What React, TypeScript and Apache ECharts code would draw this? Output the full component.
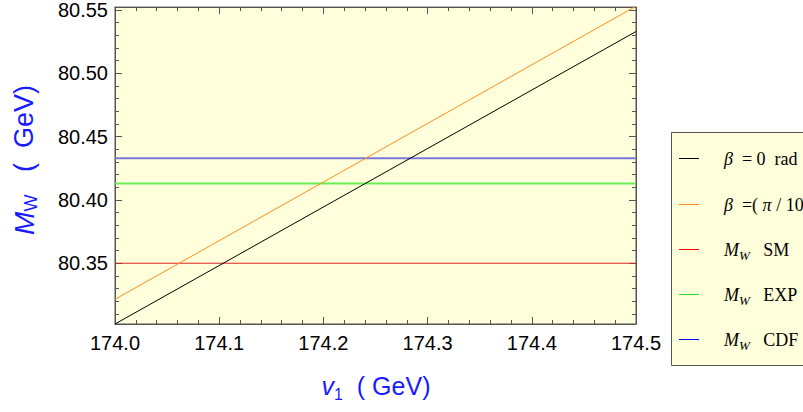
import React, { useEffect, useRef } from 'react';
import * as echarts from 'echarts';

// ---- data ----
const xRange = [174.0, 174.5];
const yRange = [80.302, 80.5523];
const yMajorStep = 0.05;

const v1Values = [174.0, 174.5];
const mwBeta0 = [80.302, 80.533];
const mwBetaPi10 = [80.3215, 80.553];
const mwSM = [80.35, 80.35];
const mwEXP = [80.413, 80.413];
const mwCDF = [80.433, 80.433];

const S = '\u00a0';
const legendLabels = [
  `{i|β}${S}${S}=${S}0${S}${S}rad`,
  `{i|β}${S}${S}=(${S}{i|π}${S}/${S}10`,
  `{i|M}{sub|W}${S}${S}${S}SM`,
  `{i|M}{sub|W}${S}${S}${S}EXP`,
  `{i|M}{sub|W}${S}${S}${S}CDF`,
];
const legendColors = ['#000000', '#ff8c1a', '#ff0000', '#22dd22', '#0000ff'];

const xTitle = `{i|v}{sub|1}${S}${S}(${S}GeV)`;
const yTitle = `{i|M}{sub|W}${S}${S}${S}(${S}${S}GeV)`;

const axisColor = '#555555';

function pairs(xs: number[], ys: number[]) {
  return xs.map((x, i) => [x, ys[i]]);
}

export default function App() {
  const ref = useRef<HTMLDivElement>(null);
  useEffect(() => {
    if (!ref.current) return;
    const chart = echarts.init(ref.current, undefined, { renderer: 'svg' });

    const tickCommon = {
      axisLine: { show: true, onZero: false, lineStyle: { color: axisColor, width: 1 } },
      axisTick: { show: true, inside: true, length: 7, lineStyle: { color: axisColor, width: 1 } },
      minorTick: { show: true, splitNumber: 5, length: 4, lineStyle: { color: axisColor, width: 1 } },
      splitLine: { show: false },
      minorSplitLine: { show: false },
    };

    const labelFont = {
      fontFamily: 'Liberation Sans, Arial, sans-serif',
      fontSize: 20,
      color: '#000',
    };

    const yFormatter = (v: number) => {
      const k = v / yMajorStep;
      return Math.abs(k - Math.round(k)) < 1e-6 ? v.toFixed(2) : '';
    };

    const serif = 'Liberation Serif, Times New Roman, serif';
    const legendGraphics: any[] = [];
    legendGraphics.push({
      type: 'rect',
      shape: { x: 671.5, y: 132.5, width: 160, height: 233 },
      style: { fill: '#ffffdc', stroke: '#555', lineWidth: 1 },
      z: 10,
    });
    const rowY = [159, 205, 250, 295, 340];
    legendLabels.forEach((lab, i) => {
      legendGraphics.push({
        type: 'line',
        shape: { x1: 679, y1: rowY[i] - 0.5, x2: 699, y2: rowY[i] - 0.5 },
        style: { stroke: legendColors[i], lineWidth: 1 },
        z: 11,
      });
      legendGraphics.push({
        type: 'text',
        x: 724,
        y: rowY[i],
        style: {
          text: lab,
          fill: '#000',
          fontFamily: serif,
          fontSize: 18,
          verticalAlign: 'middle',
          align: 'left',
          rich: {
            i: { fontStyle: 'italic', fontFamily: serif, fontSize: 18, lineHeight: 24 },
            sub: { fontStyle: 'italic', fontFamily: serif, fontSize: 13, lineHeight: 13, verticalAlign: 'bottom' },
          },
        },
        z: 11,
      });
    });

    const titleRich = {
      i: { fontStyle: 'italic', fontFamily: 'Liberation Sans, Arial, sans-serif', fontSize: 25, lineHeight: 32, fill: '#1a1aff' },
      sub: { fontFamily: 'Liberation Sans, Arial, sans-serif', fontSize: 16, lineHeight: 16, verticalAlign: 'bottom', fill: '#1a1aff' },
    };

    chart.setOption({
      animation: false,
      backgroundColor: '#ffffff',
      grid: {
        left: 115,
        top: 4,
        right: 167,
        bottom: 88,
        show: true,
        backgroundColor: '#ffffdc',
        borderColor: axisColor,
        borderWidth: 1,
        containLabel: false,
      },
      xAxis: [
        {
          type: 'value',
          position: 'bottom',
          min: xRange[0],
          max: xRange[1],
          interval: 0.1,
          ...tickCommon,
          axisLabel: { ...labelFont, margin: 9, formatter: (v: number) => v.toFixed(1) },
        },
        {
          type: 'value',
          position: 'top',
          min: xRange[0],
          max: xRange[1],
          interval: 0.1,
          ...tickCommon,
          axisLabel: { show: false },
        },
      ],
      yAxis: [
        {
          type: 'value',
          position: 'left',
          min: yRange[0],
          max: yRange[1],
          splitNumber: 5,
          ...tickCommon,
          axisLabel: { ...labelFont, margin: 7, formatter: yFormatter },
        },
        {
          type: 'value',
          position: 'right',
          min: yRange[0],
          max: yRange[1],
          splitNumber: 5,
          ...tickCommon,
          axisLabel: { show: false },
        },
      ],
      series: [
        {
          name: 'MW CDF',
          type: 'line',
          data: pairs(v1Values, mwCDF),
          symbol: 'none',
          lineStyle: { color: '#7878dc', width: 2 },
        },
        {
          name: 'MW EXP',
          type: 'line',
          data: pairs(v1Values, mwEXP),
          symbol: 'none',
          lineStyle: { color: '#66ee55', width: 2 },
        },
        {
          name: 'MW SM',
          type: 'line',
          data: pairs(v1Values, mwSM),
          symbol: 'none',
          lineStyle: { color: '#dd2222', width: 1 },
        },
        {
          name: 'beta pi/10',
          type: 'line',
          data: pairs(v1Values, mwBetaPi10),
          symbol: 'none',
          lineStyle: { color: '#ff8c1a', width: 1 },
        },
        {
          name: 'beta 0',
          type: 'line',
          data: pairs(v1Values, mwBeta0),
          symbol: 'none',
          lineStyle: { color: '#000000', width: 1 },
        },
      ],
      graphic: [
        {
          type: 'text',
          x: 376,
          y: 386,
          style: {
            text: xTitle,
            fill: '#1a1aff',
            fontFamily: 'Liberation Sans, Arial, sans-serif',
            fontSize: 25,
            align: 'center',
            verticalAlign: 'middle',
            rich: titleRich,
          },
        },
        {
          type: 'text',
          x: 24,
          y: 160,
          rotation: Math.PI / 2,
          style: {
            text: yTitle,
            fill: '#1a1aff',
            fontFamily: 'Liberation Sans, Arial, sans-serif',
            fontSize: 27,
            align: 'center',
            verticalAlign: 'middle',
            rich: {
              i: { ...titleRich.i, fontSize: 28 },
              sub: { ...titleRich.sub, fontSize: 18 },
            },
          },
        },
        ...legendGraphics,
      ],
    });
    return () => chart.dispose();
  }, []);
  return (
    <div
      ref={ref}
      style={{ position: 'fixed', left: 0, top: 0, width: 803, height: 412, background: '#fff' }}
    />
  );
}
